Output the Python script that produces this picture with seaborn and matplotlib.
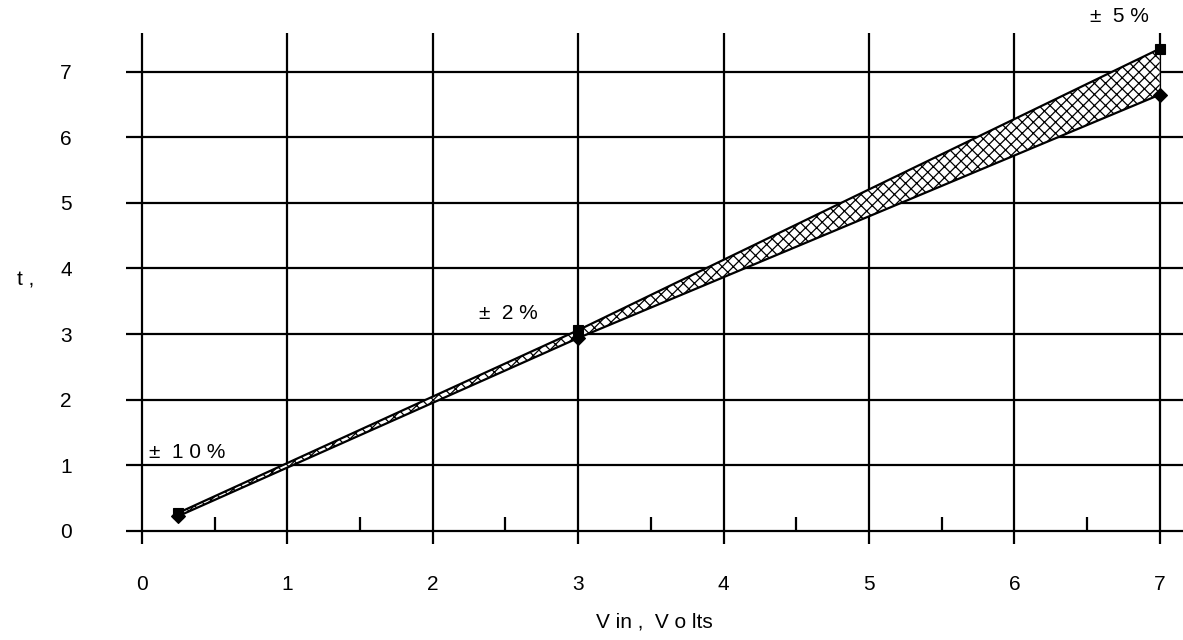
import matplotlib
matplotlib.use("Agg")
import matplotlib.pyplot as plt
import seaborn as sns
import pandas as pd

sns.set_theme(style="white")
plt.rcParams['font.family'] = ['Liberation Sans', 'DejaVu Sans']
plt.rcParams['hatch.linewidth'] = 0.9

# Data
vin = [0.25, 3.0, 7.0]
t_upper = [0.275, 3.06, 7.35]
t_lower = [0.225, 2.94, 6.65]
tol_labels = ["±  1 0 %", "±  2 %", "±  5 %"]
tol_label_pos = [(0.05, 1.19), (2.32, 3.32), (6.52, 7.84)]
x_major = [0, 1, 2, 3, 4, 5, 6, 7]
y_major = [0, 1, 2, 3, 4, 5, 6, 7]
x_half = [0.5, 1.5, 2.5, 3.5, 4.5, 5.5, 6.5]

df = pd.DataFrame({"vin": vin + vin,
                   "t": t_upper + t_lower,
                   "bound": ["upper"] * 3 + ["lower"] * 3})

FS = 15

fig = plt.figure(figsize=(11.83, 6.40), dpi=100)
ax = fig.add_axes([126 / 1183, (640 - 544) / 640, 1 - 126 / 1183, (544 - 33) / 640])

for s in ax.spines.values():
    s.set_visible(False)

# grid
for xv in x_major:
    ax.axvline(xv, color="black", lw=1.6, zorder=1)
for yv in y_major:
    ax.axhline(yv, color="black", lw=1.6, zorder=1)
# half ticks on the zero line
ax.vlines(x_half, 0, 0.21, color="black", lw=1.6, zorder=1)

ax.fill_between(vin, t_lower, t_upper, facecolor="white", edgecolor="black",
                hatch="xxx", lw=0, zorder=2)

sns.lineplot(data=df, x="vin", y="t", hue="bound", style="bound",
             palette={"upper": "black", "lower": "black"},
             markers={"upper": "s", "lower": "D"},
             dashes={"upper": "", "lower": ""},
             markersize=7, markeredgecolor="black", markeredgewidth=0.8,
             lw=1.6, ax=ax, legend=False, zorder=3)

for lab, (lx, ly) in zip(tol_labels, tol_label_pos):
    ax.text(lx, ly, lab, fontsize=FS, color="black", ha="left", va="center",
            clip_on=False)

ax.set_xlim(-0.11, 7.16)
ax.set_ylim(-0.2, 7.59)
ax.set_xticks(x_major)
ax.set_yticks(y_major)
ax.set_xticklabels([str(v) for v in x_major], fontsize=FS)
ax.set_yticklabels([str(v) for v in y_major], fontsize=FS)
ax.tick_params(axis="both", length=0, colors="black")
ax.tick_params(axis="x", pad=22)
ax.tick_params(axis="y", pad=39)
ax.set_xlabel("V in ,  V o lts", fontsize=FS, color="black", labelpad=14)
ax.set_ylabel("")
fig.text(17 / 1183, 1 - 280 / 640, "t ,", fontsize=FS, color="black",
         ha="left", va="center")

fig.savefig("out.png", dpi=100)
